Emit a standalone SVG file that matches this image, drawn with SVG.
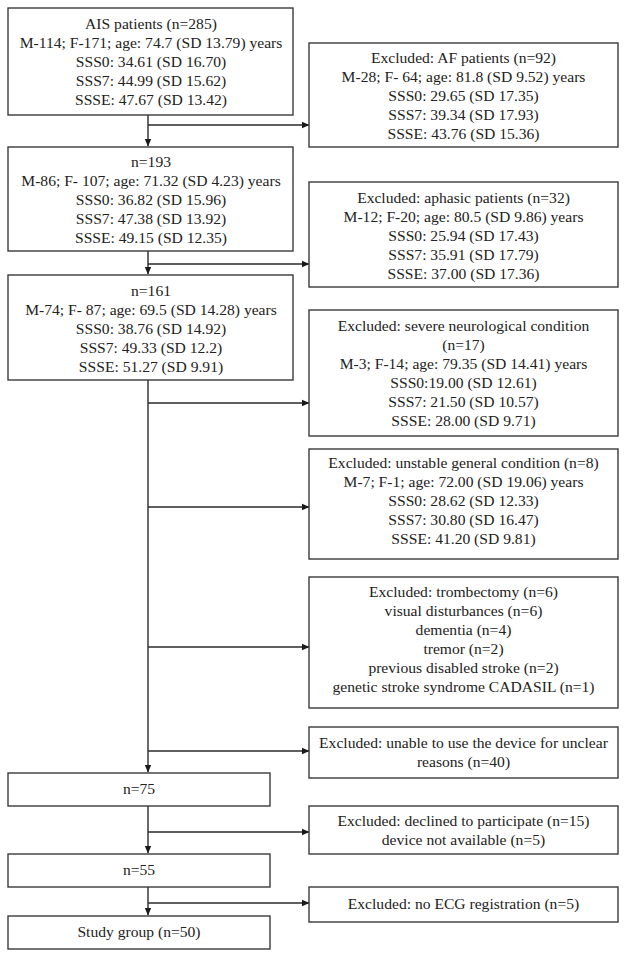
<svg xmlns="http://www.w3.org/2000/svg" width="626" height="956" viewBox="0 0 626 956">
<style>
rect{fill:#fff;stroke:#3a3a3a;stroke-width:1.4}
text{font-family:"Liberation Serif","Times New Roman",serif;font-size:15.6px;fill:#222;text-anchor:middle}
.c line{stroke:#2a2a2a;stroke-width:1.4}
</style>
<defs>
<marker id="a" markerWidth="8" markerHeight="8" refX="7" refY="4" orient="auto" markerUnits="userSpaceOnUse">
<path d="M0,0.8 L7.5,4 L0,7.2 Z" fill="#1a1a1a"/>
</marker>
</defs>
<rect width="626" height="956" style="fill:#fff;stroke:none"/>
<g class="c" id="connectors">
<line x1="148" y1="115" x2="148" y2="146" marker-end="url(#a)"/>
<line x1="148" y1="125" x2="309" y2="125" marker-end="url(#a)"/>
<line x1="148" y1="251" x2="148" y2="274" marker-end="url(#a)"/>
<line x1="148" y1="264" x2="309" y2="264" marker-end="url(#a)"/>
<line x1="148" y1="380" x2="148" y2="772" marker-end="url(#a)"/>
<line x1="148" y1="403" x2="309" y2="403" marker-end="url(#a)"/>
<line x1="148" y1="507" x2="309" y2="507" marker-end="url(#a)"/>
<line x1="148" y1="647" x2="309" y2="647" marker-end="url(#a)"/>
<line x1="148" y1="751" x2="309" y2="751" marker-end="url(#a)"/>
<line x1="148" y1="806" x2="148" y2="853" marker-end="url(#a)"/>
<line x1="148" y1="832" x2="309" y2="832" marker-end="url(#a)"/>
<line x1="148" y1="887" x2="148" y2="915" marker-end="url(#a)"/>
<line x1="148" y1="903" x2="309" y2="903" marker-end="url(#a)"/>
</g>
<g id="n285">
<rect x="8" y="8" width="285" height="107"/>
<text x="151" y="29">AIS patients (n=285)</text>
<text x="151" y="48">M-114; F-171; age: 74.7 (SD 13.79) years</text>
<text x="151" y="67">SSS0: 34.61 (SD 16.70)</text>
<text x="151" y="86">SSS7: 44.99 (SD 15.62)</text>
<text x="151" y="105">SSSE: 47.67 (SD 13.42)</text>
</g>
<g id="exAF">
<rect x="309" y="43" width="309" height="104"/>
<text x="463.5" y="63">Excluded: AF patients (n=92)</text>
<text x="463.5" y="82">M-28; F- 64; age: 81.8 (SD 9.52) years</text>
<text x="463.5" y="101">SSS0: 29.65 (SD 17.35)</text>
<text x="463.5" y="120">SSS7: 39.34 (SD 17.93)</text>
<text x="463.5" y="139">SSSE: 43.76 (SD 15.36)</text>
</g>
<g id="n193">
<rect x="8" y="147" width="285" height="104"/>
<text x="151" y="167">n=193</text>
<text x="151" y="186">M-86; F- 107; age: 71.32 (SD 4.23) years</text>
<text x="151" y="205">SSS0: 36.82 (SD 15.96)</text>
<text x="151" y="224">SSS7: 47.38 (SD 13.92)</text>
<text x="151" y="243">SSSE: 49.15 (SD 12.35)</text>
</g>
<g id="exAphasic">
<rect x="309" y="182" width="309" height="105"/>
<text x="463.5" y="203">Excluded: aphasic patients (n=32)</text>
<text x="463.5" y="222">M-12; F-20; age: 80.5 (SD 9.86) years</text>
<text x="463.5" y="241">SSS0: 25.94 (SD 17.43)</text>
<text x="463.5" y="260">SSS7: 35.91 (SD 17.79)</text>
<text x="463.5" y="279">SSSE: 37.00 (SD 17.36)</text>
</g>
<g id="n161">
<rect x="8" y="275" width="285" height="105"/>
<text x="151" y="296">n=161</text>
<text x="151" y="315">M-74; F- 87; age: 69.5 (SD 14.28) years</text>
<text x="151" y="334">SSS0: 38.76 (SD 14.92)</text>
<text x="151" y="353">SSS7: 49.33 (SD 12.2)</text>
<text x="151" y="372">SSSE: 51.27 (SD 9.91)</text>
</g>
<g id="exSevere">
<rect x="309" y="310" width="309" height="126"/>
<text x="463.5" y="331">Excluded: severe neurological condition</text>
<text x="463.5" y="350">(n=17)</text>
<text x="463.5" y="369">M-3; F-14; age: 79.35 (SD 14.41) years</text>
<text x="463.5" y="388">SSS0:19.00 (SD 12.61)</text>
<text x="463.5" y="407">SSS7: 21.50 (SD 10.57)</text>
<text x="463.5" y="426">SSSE: 28.00 (SD 9.71)</text>
</g>
<g id="exUnstable">
<rect x="309" y="449" width="309" height="110"/>
<text x="463.5" y="468">Excluded: unstable general condition (n=8)</text>
<text x="463.5" y="487">M-7; F-1; age: 72.00 (SD 19.06) years</text>
<text x="463.5" y="506">SSS0: 28.62 (SD 12.33)</text>
<text x="463.5" y="525">SSS7: 30.80 (SD 16.47)</text>
<text x="463.5" y="544">SSSE: 41.20 (SD 9.81)</text>
</g>
<g id="exOther">
<rect x="309" y="577" width="309" height="131"/>
<text x="463.5" y="597">Excluded: trombectomy (n=6)</text>
<text x="463.5" y="616">visual disturbances (n=6)</text>
<text x="463.5" y="635">dementia (n=4)</text>
<text x="463.5" y="654">tremor (n=2)</text>
<text x="463.5" y="673">previous disabled stroke (n=2)</text>
<text x="463.5" y="692">genetic stroke syndrome CADASIL (n=1)</text>
</g>
<g id="exUnable">
<rect x="309" y="727" width="309" height="51"/>
<text x="463.5" y="748">Excluded: unable to use the device for unclear</text>
<text x="463.5" y="767">reasons (n=40)</text>
</g>
<g id="n75">
<rect x="8" y="773" width="262" height="33"/>
<text x="139" y="794">n=75</text>
</g>
<g id="exDeclined">
<rect x="309" y="806" width="309" height="48"/>
<text x="463.5" y="826">Excluded: declined to participate (n=15)</text>
<text x="463.5" y="845">device not available (n=5)</text>
</g>
<g id="n55">
<rect x="8" y="854" width="262" height="33"/>
<text x="139" y="875">n=55</text>
</g>
<g id="exECG">
<rect x="309" y="887" width="309" height="35"/>
<text x="463.5" y="909">Excluded: no ECG registration (n=5)</text>
</g>
<g id="study">
<rect x="8" y="916" width="262" height="33"/>
<text x="139" y="937">Study group (n=50)</text>
</g>
</svg>
